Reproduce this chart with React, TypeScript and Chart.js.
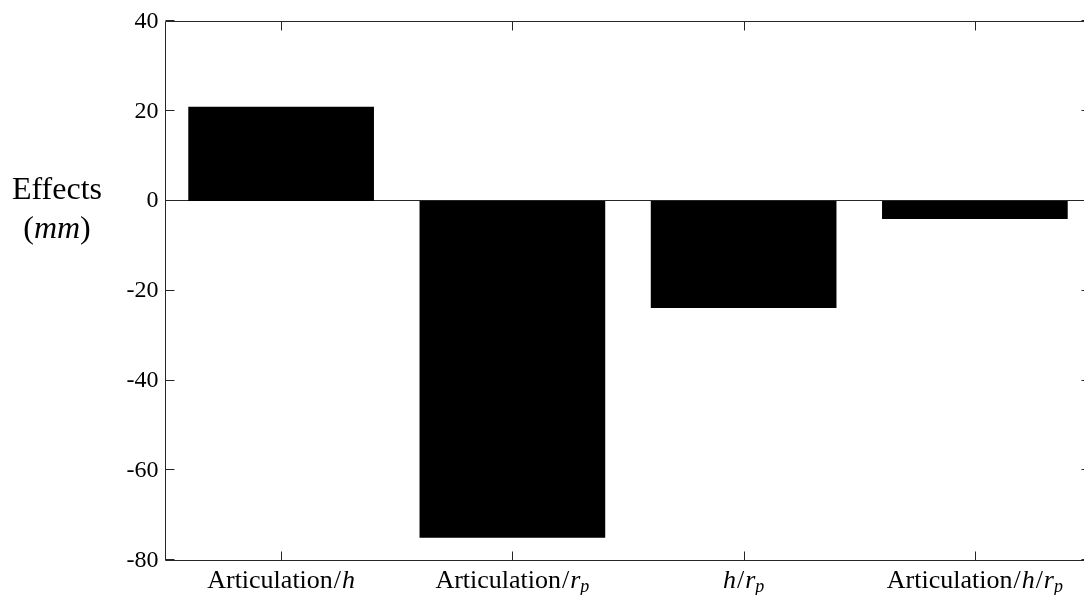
import React, { useEffect, useRef } from 'react';
import { Chart, registerables } from 'chart.js';

Chart.register(...registerables);

const categories = ['Articulation/h', 'Articulation/r_p', 'h/r_p', 'Articulation/h/r_p'];
const effects = [21, -75, -23.8, -4];
const yTickValues = [-80, -60, -40, -20, 0, 20, 40];
const yTitleWord = 'Effects';
const yTitleUnit = 'mm';

const AXIS = '#262626';
const FONT = '"Liberation Serif", "DejaVu Serif", serif';

type Seg = { t: string; it?: boolean; sub?: boolean };

function parseLabel(label: string): Seg[] {
  const parts = label.split('/');
  const segs: Seg[] = [];
  parts.forEach((p, i) => {
    if (i > 0) segs.push({ t: '/' });
    if (p.includes('_')) {
      const [b, s] = p.split('_');
      segs.push({ t: b, it: true });
      segs.push({ t: s, it: true, sub: true });
    } else if (p.length === 1) {
      segs.push({ t: p, it: true });
    } else {
      segs.push({ t: p });
    }
  });
  return segs;
}

function drawSegs(ctx: CanvasRenderingContext2D, segs: Seg[], cx: number, baseline: number, size: number) {
  const subSize = Math.round(size * 0.7);
  const fontOf = (s: Seg) => `${s.it ? 'italic ' : ''}${s.sub ? subSize : size}px ${FONT}`;
  let total = 0;
  const widths = segs.map((s) => {
    ctx.font = fontOf(s);
    const w = ctx.measureText(s.t).width + (s.t === '/' ? 2 : 0);
    total += w;
    return w;
  });
  let x = cx - total / 2;
  ctx.textAlign = 'left';
  ctx.textBaseline = 'alphabetic';
  segs.forEach((s, i) => {
    ctx.font = fontOf(s);
    ctx.fillText(s.t, x + (s.t === '/' ? 1 : 0), baseline + (s.sub ? size * 0.18 : 0));
    x += widths[i];
  });
}

const framePlugin = {
  id: 'matlabFrame',
  beforeDatasetsDraw(chart: any) {
    const { ctx, chartArea } = chart;
    const y = chart.scales.y;
    const y0 = Math.round(y.getPixelForValue(0)) - 0.5;
    ctx.save();
    ctx.strokeStyle = AXIS;
    ctx.lineWidth = 1;
    ctx.beginPath();
    ctx.moveTo(chartArea.left, y0);
    ctx.lineTo(chartArea.right, y0);
    ctx.stroke();
    ctx.restore();
  },
  afterDraw(chart: any) {
    const { ctx, chartArea } = chart;
    const xs = chart.scales.x;
    const ys = chart.scales.y;
    const L = Math.floor(chartArea.left) + 0.5;
    const R = Math.floor(chartArea.right) + 0.5;
    const T = Math.floor(chartArea.top) + 0.5;
    const B = Math.floor(chartArea.bottom) + 0.5;
    const tick = 9;
    ctx.save();
    ctx.strokeStyle = AXIS;
    ctx.lineWidth = 1;
    ctx.beginPath();
    ctx.moveTo(L, B);
    ctx.lineTo(L, T);
    ctx.lineTo(R, T);
    ctx.lineTo(R, B);
    ctx.lineTo(L, B);
    categories.forEach((_, i) => {
      const px = Math.round(xs.getPixelForValue(i)) + 0.5;
      ctx.moveTo(px, B);
      ctx.lineTo(px, B - tick);
      ctx.moveTo(px, T);
      ctx.lineTo(px, T + tick);
    });
    yTickValues.forEach((v) => {
      const py = Math.round(ys.getPixelForValue(v)) - 0.5;
      ctx.moveTo(L, py);
      ctx.lineTo(L + tick, py);
      ctx.moveTo(R, py);
      ctx.lineTo(R - tick, py);
    });
    ctx.stroke();

    ctx.fillStyle = '#000';
    categories.forEach((c, i) => {
      const px = xs.getPixelForValue(i);
      drawSegs(ctx, parseLabel(c), px, 587.5, 26);
    });

    drawSegs(ctx, [{ t: yTitleWord }], 57, 199, 32);
    drawSegs(ctx, [{ t: '(' }, { t: yTitleUnit, it: true }, { t: ')' }], 57, 238, 32);
    ctx.restore();
  },
};

export default function App() {
  const ref = useRef<HTMLCanvasElement | null>(null);

  useEffect(() => {
    if (!ref.current) return;
    const chart = new Chart(ref.current, {
      type: 'bar',
      data: {
        labels: categories,
        datasets: [
          {
            data: effects,
            backgroundColor: '#000',
            borderWidth: 0,
            barPercentage: 0.803,
            categoryPercentage: 1,
          },
        ],
      },
      options: {
        responsive: false,
        maintainAspectRatio: false,
        animation: false,
        devicePixelRatio: 1,
        layout: { padding: { top: 18, left: 0, right: 1.5, bottom: 0 } },
        plugins: {
          legend: { display: false },
          tooltip: { enabled: false },
        },
        scales: {
          x: {
            type: 'category',
            offset: true,
            grid: { display: false, drawTicks: false },
            border: { display: false },
            ticks: { display: false },
            afterFit: (s: any) => {
              s.height = 34.7;
            },
          },
          y: {
            min: -80,
            max: 40,
            grid: { display: false, drawTicks: false },
            border: { display: false },
            ticks: {
              stepSize: 20,
              color: '#000',
              padding: 7,
              font: { family: FONT, size: 24 },
            },
            afterFit: (s: any) => {
              s.width = 165.5;
            },
          },
        },
      },
      plugins: [framePlugin],
    });
    return () => chart.destroy();
  }, []);

  return (
    <div
      style={{
        position: 'fixed',
        left: 0,
        top: 0,
        width: 1084,
        height: 595,
        overflow: 'hidden',
        background: '#fff',
      }}
    >
      <canvas ref={ref} width={1092} height={595} style={{ display: 'block' }} />
    </div>
  );
}
